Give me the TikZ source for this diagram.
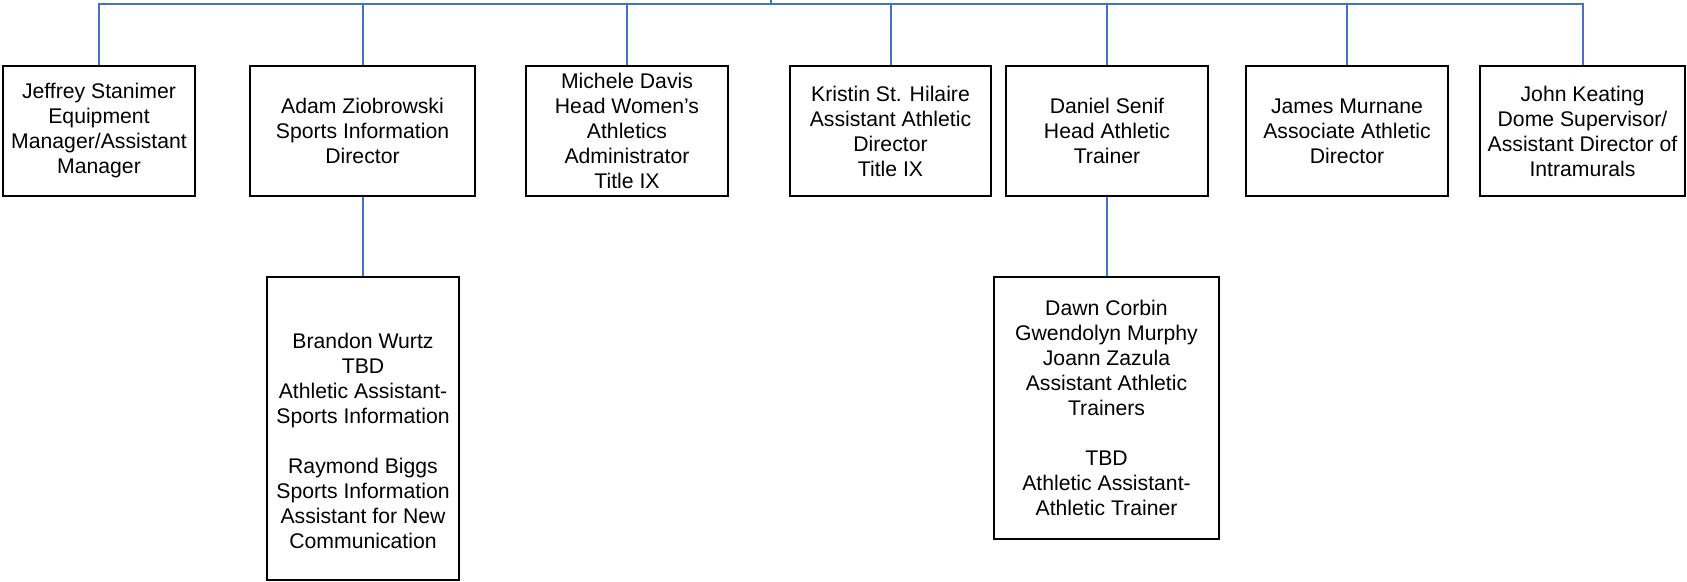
\documentclass[tikz,border=0pt]{standalone}
\usepackage{fontspec}
\setmainfont{Liberation Sans}
\definecolor{linkblue}{RGB}{68,114,196}
\begin{document}
\begin{tikzpicture}[x=0.5pt,y=-0.5pt,
  box/.style={draw=black,line width=1pt,rectangle,inner sep=0pt,align=center,
    font=\fontsize{10.6}{12.5}\selectfont},
  link/.style={draw=linkblue,line width=1pt}]
\useasboundingbox (0,0) rectangle (1687,582);
\node[box,minimum width=96pt,minimum height=65pt] (b1) at (99,131)
  {Jeffrey Stanimer\\Equipment\\Manager/Assistant\\Manager};
\node[box,minimum width=112.5pt,minimum height=65pt] (b2) at (362.5,131)
  {Adam Ziobrowski\\Sports Information\\Director};
\node[box,minimum width=101pt,minimum height=65pt] (b3) at (627,131)
  {Michele Davis\\Head Women’s\\Athletics\\Administrator\\Title IX};
\node[box,minimum width=100.5pt,minimum height=65pt] (b4) at (890.5,131)
  {Kristin St. Hilaire\\Assistant Athletic\\Director\\Title IX};
\node[box,minimum width=101pt,minimum height=65pt] (b5) at (1107,131)
  {Daniel Senif\\Head Athletic\\Trainer};
\node[box,minimum width=101pt,minimum height=65pt] (b6) at (1347,131)
  {James Murnane\\Associate Athletic\\Director};
\node[box,minimum width=102.5pt,minimum height=65pt] (b7) at (1582.5,131)
  {John Keating\\Dome Supervisor/\\Assistant Director of\\Intramurals};
\node[box,minimum width=96pt,minimum height=151.5pt,
  label={[align=center,font=\fontsize{10.6}{12.5}\selectfont,yshift=-6.25pt]center:Brandon Wurtz\\TBD\\Athletic Assistant-\\Sports Information\\[12.5pt]Raymond Biggs\\Sports Information\\Assistant for New\\Communication}] (bA) at (363,428.5) {};
\node[box,minimum width=112.5pt,minimum height=131pt] (bB) at (1106.5,408)
  {Dawn Corbin\\Gwendolyn Murphy\\Joann Zazula\\Assistant Athletic\\Trainers\\[12.5pt]TBD\\Athletic Assistant-\\Athletic Trainer};
\coordinate (top) at (771,0);
\coordinate (bus) at (771,4.3);
\draw[link] (top) -- (bus);
\foreach \b in {b1,b2,b3,b4,b5,b6,b7} {
  \draw[link] (\b.north) |- (bus);
}
\draw[link] (b2.south) -- (b2.south |- bA.north);
\draw[link] (b5.south) -- (b5.south |- bB.north);
\end{tikzpicture}
\end{document}
